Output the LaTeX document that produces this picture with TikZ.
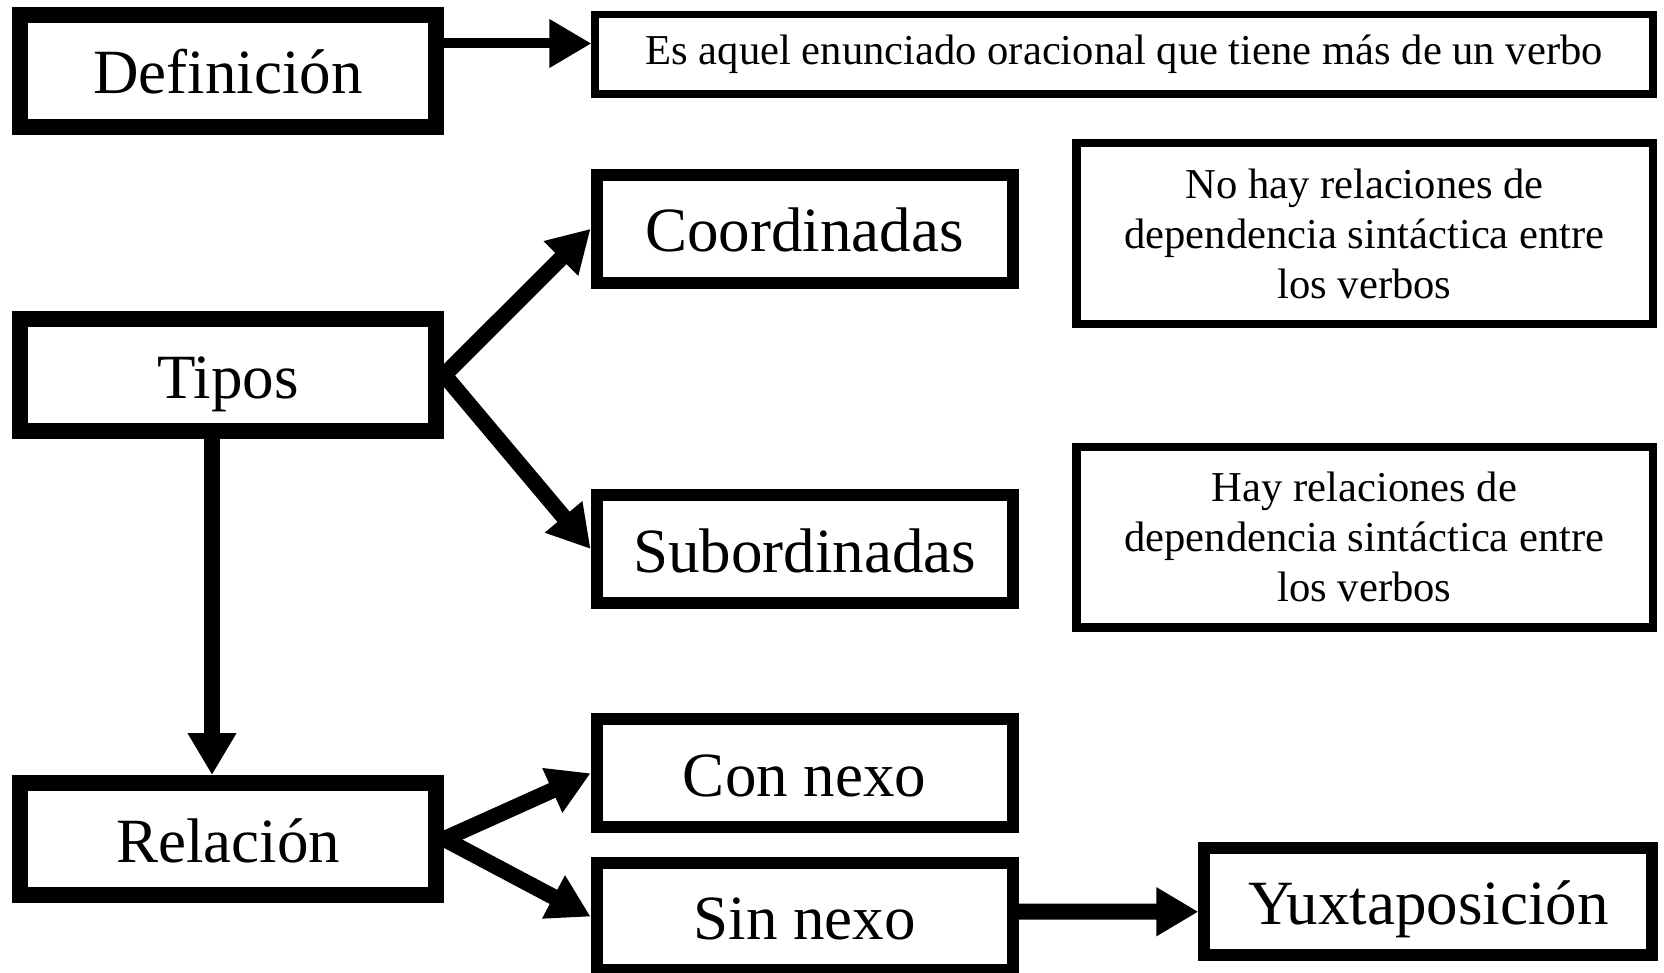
\documentclass[tikz,border=0pt]{standalone}
\usepackage{fontspec}
\setmainfont{Liberation Serif}
\usetikzlibrary{arrows.meta, positioning}

\newcommand{\bigfont}{\fontsize{31.5}{37}\selectfont}
\newcommand{\notefont}{\fontsize{21.3}{25}\selectfont}

\begin{document}
\begin{tikzpicture}[x=0.5pt, y=-0.5pt,
  leftbox/.style={draw, line width=8pt, minimum width=208.25pt, minimum height=56pt, inner sep=0pt, text height=23pt, text depth=0pt, font=\bigfont},
  midbox/.style={draw, line width=6pt, minimum width=208pt, minimum height=53.75pt, inner sep=0pt, text height=23pt, text depth=0pt, font=\bigfont},
  notebox/.style={draw, line width=4pt, inner sep=0pt, align=center, font=\notefont},
  arr/.style={line width=8pt, -{Triangle[length=21pt, width=23pt]}}]
  \useasboundingbox (0,0) rectangle (1664,973);

  % Left column
  \node[leftbox] (def) at (228, 71) {Definición};
  \node[leftbox] (tipos) at (228, 375) {Tipos};
  \node[leftbox] (rel) at (228, 839) {Relación};

  % Definition text
  \node[notebox, line width=3.75pt, minimum width=529pt, minimum height=39.65pt] (deftext) at (1124.2, 54.4)
    {Es aquel enunciado oracional que tiene más de un verbo};

  % Types and relations
  \node[midbox] (coord) at (804.6, 228.8) {Coordinadas};
  \node[midbox] (sub) at (804.6, 549) {Subordinadas};
  \node[midbox] (con) at (804.6, 773.2) {Con nexo};
  \node[midbox] (sin) at (804.6, 916.6) {Sin nexo};
  \node[midbox, minimum width=224pt] (yuxt) at (1428.4, 901.35) {Yuxtaposición};

  % Notes
  \node[notebox, line width=4.25pt, minimum width=288.25pt, minimum height=90.6pt] (nohay) at (1364.5, 233.5)
    {No hay relaciones de\\dependencia sintáctica entre\\los verbos};
  \node[notebox, line width=4.25pt, minimum width=288.25pt, minimum height=90.4pt] (hay) at (1364.5, 537.3)
    {Hay relaciones de\\dependencia sintáctica entre\\los verbos};

  % Arrows
  \draw[arr, line width=5pt] ([yshift=13.75pt]def.east) -- ([yshift=5.45pt]deftext.west);
  \draw[arr] (tipos.east) -- (coord.west);
  \draw[arr] (tipos.east) -- (sub.west);
  \draw[arr] ([xshift=-8pt]tipos.south) -- ([xshift=-8pt]rel.north);
  \draw[arr] (rel.east) -- (con.west);
  \draw[arr] (rel.east) -- (sin.west);
  \draw[arr] ([yshift=2.45pt]sin.east) -- ([yshift=-5.2pt]yuxt.west);
\end{tikzpicture}
\end{document}
